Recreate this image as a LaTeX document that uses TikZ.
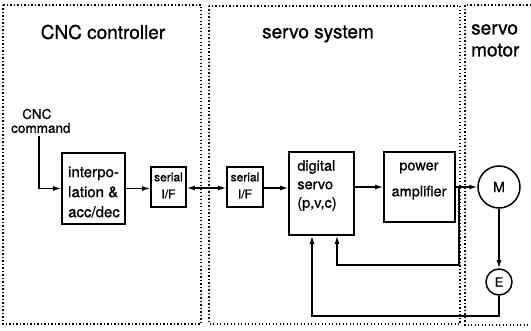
\documentclass[tikz,border=0pt]{standalone}
\usepackage{fontspec}
\setmainfont{TeX Gyre Heros}[BoldFont={TeX Gyre Heros}, BoldFeatures={FakeBold=0.9}]
\usetikzlibrary{arrows.meta}
\begin{document}
\begin{tikzpicture}[x=1pt,y=-1pt,
  frame/.style={line width=1.3pt, dash pattern=on 1.2pt off 2.3pt},
  blk/.style={draw, line width=1.6pt, inner sep=0pt},
  circ/.style={draw, circle, line width=1.5pt, inner sep=0pt},
  conn/.style={line width=1.4pt, -{Latex[length=8pt,width=5pt]}},
  title/.style={font=\bfseries\fontsize{19}{22}\selectfont, inner sep=0pt},
  txt/.style={font=\bfseries\fontsize{15}{20}\selectfont, inner sep=0pt},
  small/.style={font=\bfseries\fontsize{12}{14}\selectfont, inner sep=0pt}]
\useasboundingbox (0,0) rectangle (531,331);
% frames
\draw[frame] (3,5) rectangle (201,324);
\draw[frame] (209,6) rectangle (460,324);
\draw[frame] (531,5) -- (465,5) -- (465,325) -- (531,325);
% titles
\node[title] (t1) at (103,32) {CNC controller};
\node[title, anchor=north west, align=left] (t3) at (471,24) {servo\\motor};
\node[title] (t2) at (318,34) {servo system};
% command label
\node[font=\bfseries\fontsize{13.5}{16}\selectfont, inner sep=0pt, anchor=west] (cnc) at (22,114) {CNC};
\node[font=\bfseries\fontsize{13.5}{16}\selectfont, inner sep=0pt, anchor=west] (cmd) at (11,128) {command};
\coordinate (cmdtop) at (39,136);
% blocks
\node[blk, minimum width=63pt, minimum height=71pt] (interp) at (93.5,188.5) {};
\node[txt, align=left] (interpT) at (94,192) {interpo-\\lation \&\\acc/dec};
\node[blk, minimum width=35pt, minimum height=40pt] (s1) at (168.5,187) {};
\node[small] (s1a) at (168.5,177) {serial};
\node[small] (s1b) at (168.5,194) {I/F};
\node[blk, minimum width=36pt, minimum height=40pt] (s2) at (245,187) {};
\node[small] (s2a) at (245,177) {serial};
\node[small] (s2b) at (245,194) {I/F};
\node[blk, minimum width=65pt, minimum height=83pt] (ds) at (321.5,193.5) {};
\node[txt, align=left, font=\bfseries\fontsize{14.5}{18.5}\selectfont] (dsT) at (317,185.5) {digital\\servo\\(p,v,c)};
\node[blk, minimum width=71pt, minimum height=70pt] (pa) at (419.5,187) {};
\node[txt, align=center, font=\bfseries\fontsize{14.5}{26}\selectfont] (paT) at (419,181) {power\\amplifier};
\node[circ, minimum size=42pt, font=\bfseries\fontsize{14}{16}\selectfont] (M) at (499,187) {M};
\node[circ, minimum size=26pt, font=\bfseries\fontsize{12.5}{14}\selectfont] (E) at (499,282) {E};
% connectors
\draw[conn] (cmdtop) |- (interp.west);
\draw[conn] (interp.east) -- (interp.east -| s1.west);
\draw[line width=1.4pt, {Latex[length=8pt,width=5pt]}-{Latex[length=8pt,width=5pt]}] (s1.east |- 0,188) -- (s2.west |- 0,188);
\draw[conn] (s2.east |- 0,188) -- (ds.west |- 0,188);
\draw[conn] (ds.east |- pa.west) -- (pa.west);
\draw[conn] (pa.east) -- (M.west);
\coordinate (j) at (459,187);
\coordinate (fb1) at (337,265);
\coordinate (fb2) at (312,316);
\draw[conn] (j) |- (fb1) -- (fb1 |- ds.south);
\draw[conn] (M.south) -- (E.north);
\draw[conn] (E.south) |- (fb2) -- (fb2 |- ds.south);
\end{tikzpicture}
\end{document}
